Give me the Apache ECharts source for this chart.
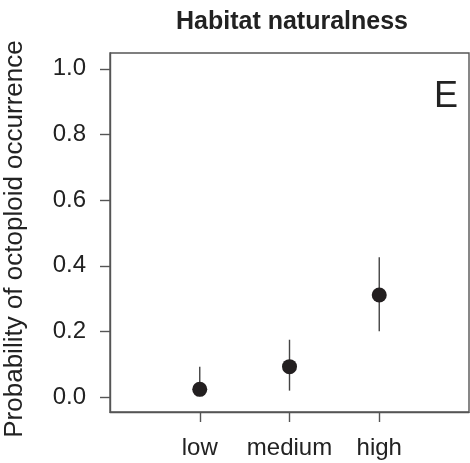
<!DOCTYPE html>
<html><head><meta charset="utf-8">
<script src="https://cdn.jsdelivr.net/npm/echarts@6/dist/echarts.min.js"></script>
<style>html,body{margin:0;padding:0;background:#fff}#c{width:470px;height:463px}</style>
</head><body><div id="c"></div>
<script>
const categories = ['low', 'medium', 'high'];
const xPositions = [1, 2, 3];
const means = [0.024, 0.093, 0.311];
const lower = [0.003, 0.020, 0.201];
const upper = [0.093, 0.175, 0.426];
const yTicks = [0, 0.2, 0.4, 0.6, 0.8, 1.0];
const titleText = 'Habitat naturalness';
const yName = 'Probability of octoploid occurrence';
const panelLetter = 'E';

const FONT = '"Liberation Sans", Arial, sans-serif';
const chart = echarts.init(document.getElementById('c'), null, {renderer: 'canvas'});
const points = xPositions.map((x, i) => [x, means[i]]);
const bars = xPositions.map((x, i) => [x, lower[i], upper[i]]);

chart.setOption({
  animation: false,
  backgroundColor: '#fff',
  grid: {left: 110, top: 53, right: 1, bottom: 51, show: true, borderColor: '#555', borderWidth: 1.4, containLabel: false},
  xAxis: {
    type: 'value', min: 0, max: 4,
    axisLine: {show: true, onZero: false, lineStyle: {color: '#555', width: 1.4}},
    axisTick: {show: true, inside: false, length: 10, customValues: xPositions, lineStyle: {color: '#555', width: 1.4}},
    axisLabel: {show: true, customValues: xPositions, margin: 24, color: '#222', fontSize: 24, fontFamily: FONT,
      formatter: v => categories[xPositions.indexOf(v)] || ''},
    splitLine: {show: false}
  },
  yAxis: {
    type: 'value', min: -0.045, max: 1.048,
    axisLine: {show: true, onZero: false, lineStyle: {color: '#555', width: 1.4}},
    axisTick: {show: true, inside: false, length: 10, customValues: yTicks, lineStyle: {color: '#555', width: 1.4}},
    axisLabel: {show: true, customValues: yTicks, margin: 24, color: '#222', fontSize: 24, fontFamily: FONT,
      formatter: v => v.toFixed(1)},
    splitLine: {show: false}
  },
  graphic: [
    {type: 'text', x: 292, y: 10, style: {text: titleText, font: 'bold 25px ' + FONT, fill: '#222', textAlign: 'center', textVerticalAlign: 'top'}},
    {type: 'text', x: 15, y: 239, rotation: Math.PI / 2, style: {text: yName, font: '26px ' + FONT, fill: '#222', textAlign: 'center', textVerticalAlign: 'middle'}},
    {type: 'text', x: 458, y: 97, style: {text: panelLetter, font: '36px ' + FONT, fill: '#222', textAlign: 'right', textVerticalAlign: 'middle'}}
  ],
  series: [
    {
      type: 'custom',
      data: bars,
      renderItem: (params, api) => {
        const a = api.coord([api.value(0), api.value(1)]);
        const b = api.coord([api.value(0), api.value(2)]);
        return {type: 'line', shape: {x1: a[0], y1: a[1], x2: b[0], y2: b[1]}, style: {stroke: '#444', lineWidth: 1.4}};
      },
      z: 2
    },
    {
      type: 'scatter',
      data: points,
      symbol: 'circle',
      symbolSize: 15,
      itemStyle: {color: '#231f20', opacity: 1},
      z: 3
    }
  ]
});
</script></body></html>
